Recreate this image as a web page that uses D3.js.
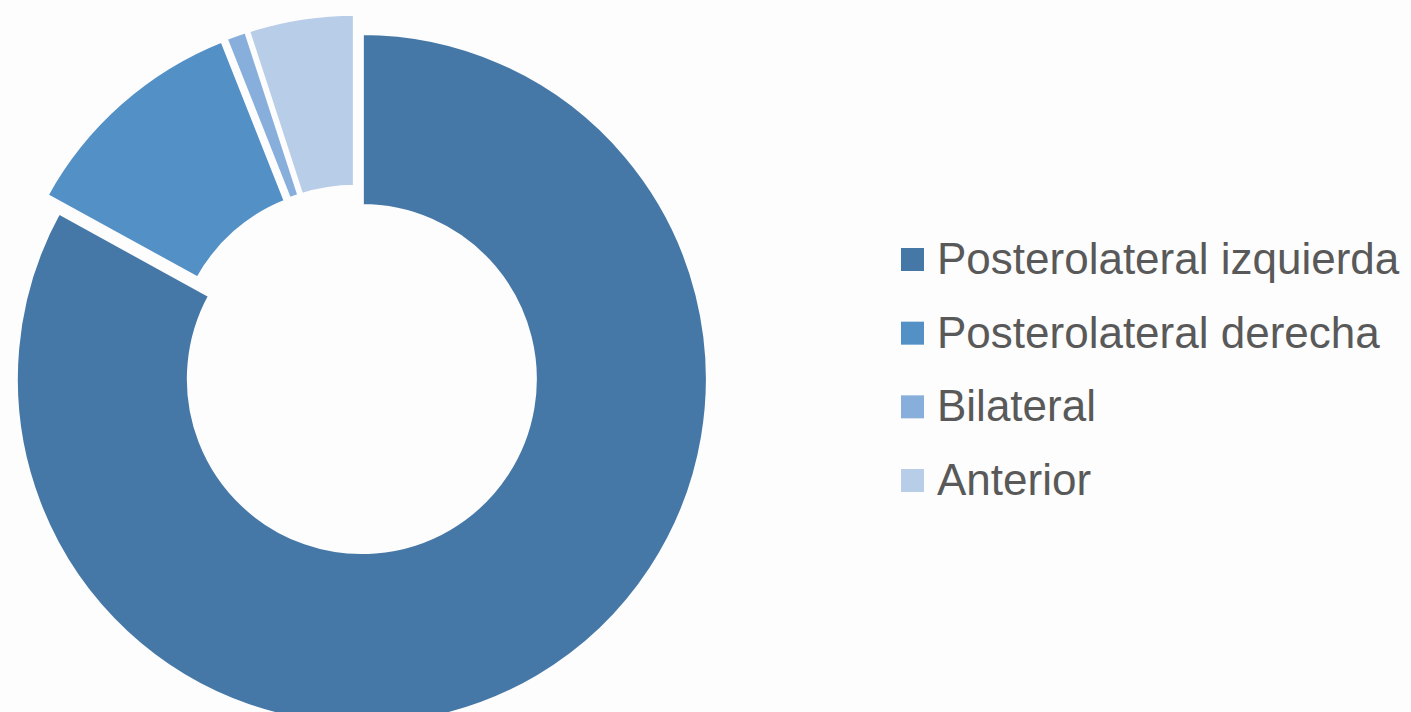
<!DOCTYPE html>
<html>
<head>
<meta charset="utf-8">
<script src="https://cdn.jsdelivr.net/npm/d3@7"></script>
<style>
  html, body { margin: 0; padding: 0; background: #fdfdfd; }
  svg { display: block; }
</style>
</head>
<body>
<svg id="chart"></svg>
<script>
// data
const categories = ["Posterolateral izquierda", "Posterolateral derecha", "Bilateral", "Anterior"];
const values = [83, 11, 1, 5];
const colors = ["#4678a7", "#5390c6", "#88afdb", "#b8cde8"];

const width = 1411, height = 712;
const cx = 356.5, cy = 370;
const outerR = 346, innerR = 173;
const explode = 10.5;

const svg = d3.select("#chart")
    .attr("width", width)
    .attr("height", height);

const pie = d3.pie().sort(null).value(d => d.value);
const arc = d3.arc().innerRadius(innerR).outerRadius(outerR);

const slices = pie(categories.map((c, i) => ({ key: c, value: values[i] })));

const g = svg.append("g").attr("transform", `translate(${cx},${cy})`);

// each slice pushed out a bit along its middle angle
g.selectAll(".slice")
    .data(slices)
    .enter()
    .append("path")
    .attr("class", "slice")
    .attr("d", arc)
    .attr("transform", d => {
        const mid = (d.startAngle + d.endAngle) / 2;
        return `translate(${explode * Math.sin(mid)},${-explode * Math.cos(mid)})`;
    })
    .attr("fill", (d, i) => colors[i])
    .attr("stroke", "#fdfdfd")
    .attr("stroke-width", 4);

// legend
const legendY = d3.scalePoint()
    .domain(categories)
    .range([259.5, 480.5]);

const legend = svg.append("g").attr("class", "legend");

legend.selectAll("rect")
    .data(categories)
    .enter()
    .append("rect")
    .attr("x", 901)
    .attr("y", d => legendY(d) - 11.5)
    .attr("width", 23)
    .attr("height", 23)
    .attr("fill", (d, i) => colors[i]);

legend.selectAll("text")
    .data(categories)
    .enter()
    .append("text")
    .attr("x", 937)
    .attr("y", d => legendY(d) + 14.5)
    .attr("font-family", "'Liberation Sans', Arial, sans-serif")
    .attr("font-size", 44)
    .attr("fill", "#595959")
    .text(d => d);
</script>
</body>
</html>
